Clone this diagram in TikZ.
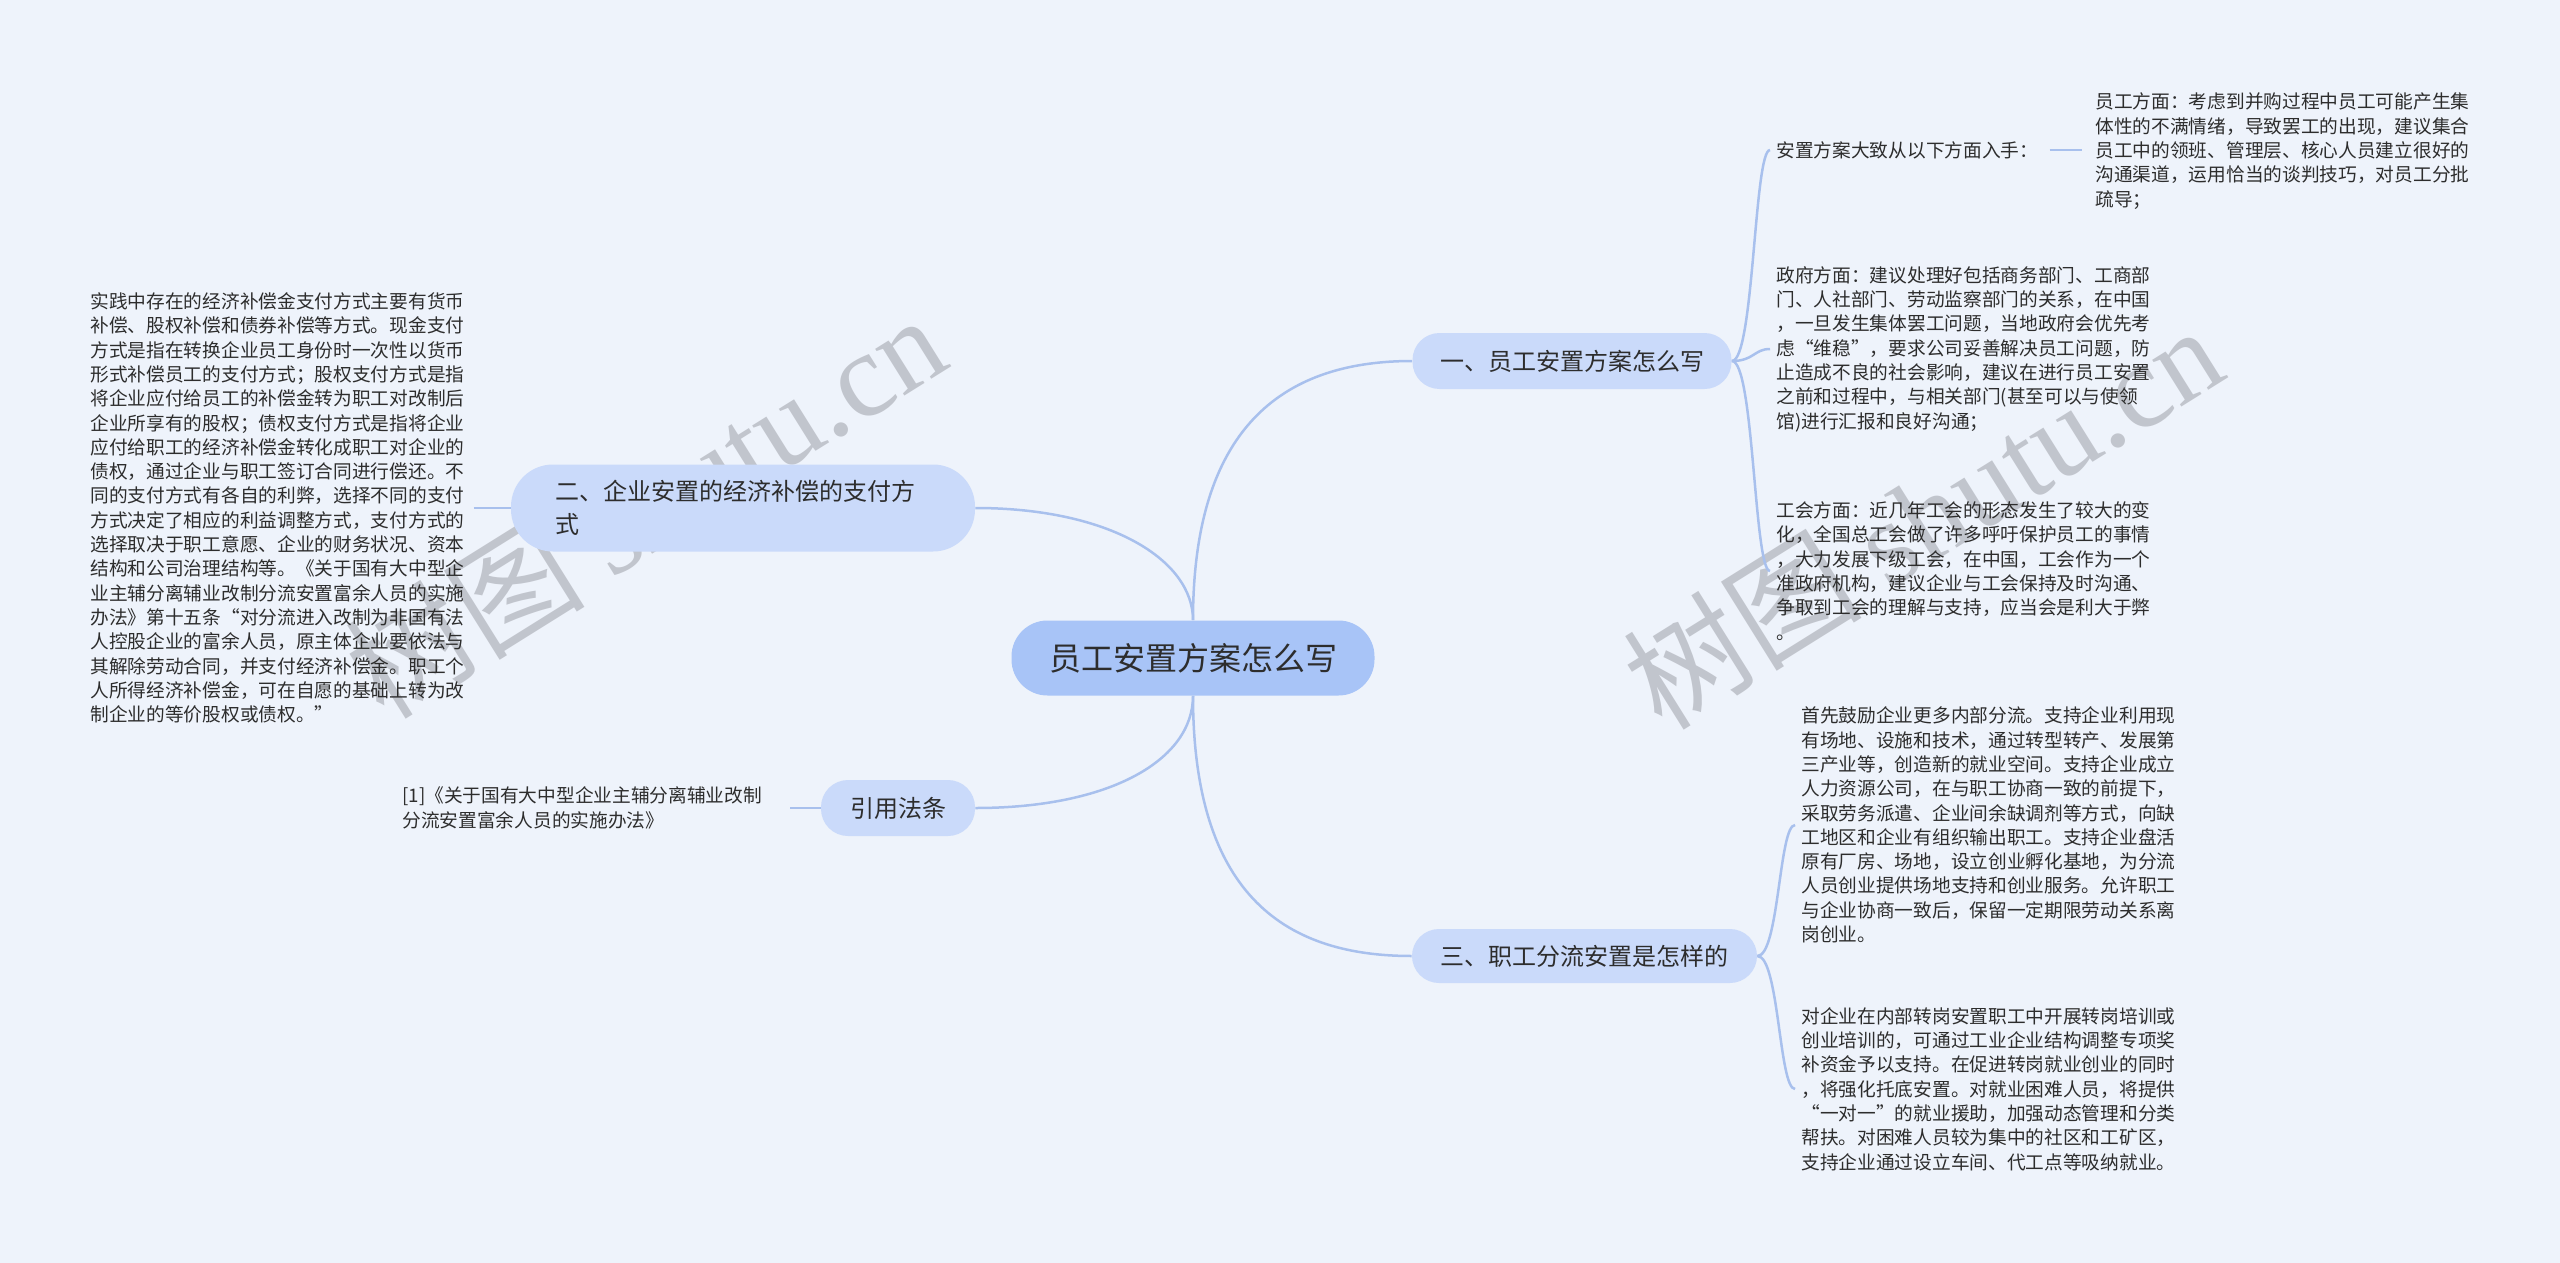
\documentclass[tikz,border=0pt]{standalone}
\usepackage{fontspec}
\setmainfont{Noto Sans CJK SC}
\newfontfamily\wmlatin{Liberation Serif}
\definecolor{bg}{RGB}{238,243,251}
\definecolor{mainfill}{RGB}{168,196,247}
\definecolor{subfill}{RGB}{202,218,250}
\definecolor{linec}{RGB}{168,192,237}
\definecolor{txt}{RGB}{45,45,45}
\definecolor{wm}{RGB}{175,178,186}
\begin{document}
\begin{tikzpicture}[x=0.5pt,y=-0.5pt,
  mainbox/.style={fill=mainfill, rounded corners=18pt, minimum width=181.5pt, minimum height=37.5pt, inner sep=0pt, text=txt, font=\fontsize{16pt}{18pt}\selectfont},
  branchbox/.style={fill=subfill, rounded corners=13.5pt, minimum height=28pt, inner sep=0pt, text=txt, font=\fontsize{12pt}{16.5pt}\selectfont},
  leaf/.style={anchor=west, align=left, inner sep=0pt, text=txt, font=\fontsize{9.35pt}{12.15pt}\selectfont},
  conn/.style={draw=linec, line width=1.25pt},
  wmark/.style={rotate=32, text=wm, text opacity=0.7, font=\fontsize{60pt}{60pt}\selectfont}
]
\useasboundingbox (0,0) rectangle (2560,1263);
\fill[bg] (0,0) rectangle (2560,1263);

% watermarks
\node[wmark] (wmL) at (645,505) {树图 {\wmlatin shutu.cn}};
\node[wmark] (wmR) at (1922,516) {树图 {\wmlatin shutu.cn}};

% central and branches
\node[mainbox] (c) at (1193,658) {员工安置方案怎么写};
\node[branchbox, minimum width=159.5pt] (b1) at (1572,361) {一、员工安置方案怎么写};
\node[branchbox, minimum width=232pt, minimum height=43.5pt, rounded corners=21pt, inner xsep=22pt, text width=188pt, align=left] (b2) at (743,508) {二、企业安置的经济补偿的支付方\\式};
\node[branchbox, minimum width=77pt] (b3) at (898,808) {引用法条};
\node[branchbox, minimum width=172.5pt, minimum height=27pt] (b4) at (1584.5,956) {三、职工分流安置是怎样的};

% leaves of branch 1
\node[leaf] (l1a) at (1776,150) {安置方案大致从以下方面入手：};
\node[leaf] (l1s) at (2095,151) {员工方面：考虑到并购过程中员工可能产生集\\体性的不满情绪，导致罢工的出现，建议集合\\员工中的领班、管理层、核心人员建立很好的\\沟通渠道，运用恰当的谈判技巧，对员工分批\\疏导；};
\node[leaf] (l1b) at (1776,349) {政府方面：建议处理好包括商务部门、工商部\\门、人社部门、劳动监察部门的关系，在中国\\，一旦发生集体罢工问题，当地政府会优先考\\虑“维稳”，要求公司妥善解决员工问题，防\\止造成不良的社会影响，建议在进行员工安置\\之前和过程中，与相关部门(甚至可以与使领\\馆)进行汇报和良好沟通；};
\node[leaf] (l1c) at (1776,571) {工会方面：近几年工会的形态发生了较大的变\\化，全国总工会做了许多呼吁保护员工的事情\\，大力发展下级工会，在中国，工会作为一个\\准政府机构，建议企业与工会保持及时沟通、\\争取到工会的理解与支持，应当会是利大于弊\\。};

% leaves of branch 4
\node[leaf] (l4a) at (1801,825) {首先鼓励企业更多内部分流。支持企业利用现\\有场地、设施和技术，通过转型转产、发展第\\三产业等，创造新的就业空间。支持企业成立\\人力资源公司，在与职工协商一致的前提下，\\采取劳务派遣、企业间余缺调剂等方式，向缺\\工地区和企业有组织输出职工。支持企业盘活\\原有厂房、场地，设立创业孵化基地，为分流\\人员创业提供场地支持和创业服务。允许职工\\与企业协商一致后，保留一定期限劳动关系离\\岗创业。};
\node[leaf] (l4b) at (1801,1089) {对企业在内部转岗安置职工中开展转岗培训或\\创业培训的，可通过工业企业结构调整专项奖\\补资金予以支持。在促进转岗就业创业的同时\\，将强化托底安置。对就业困难人员，将提供\\“一对一”的就业援助，加强动态管理和分类\\帮扶。对困难人员较为集中的社区和工矿区，\\支持企业通过设立车间、代工点等吸纳就业。};

% leaf of branch 2
\node[leaf] (l2) at (90,508) {实践中存在的经济补偿金支付方式主要有货币\\补偿、股权补偿和债券补偿等方式。现金支付\\方式是指在转换企业员工身份时一次性以货币\\形式补偿员工的支付方式；股权支付方式是指\\将企业应付给员工的补偿金转为职工对改制后\\企业所享有的股权；债权支付方式是指将企业\\应付给职工的经济补偿金转化成职工对企业的\\债权，通过企业与职工签订合同进行偿还。不\\同的支付方式有各自的利弊，选择不同的支付\\方式决定了相应的利益调整方式，支付方式的\\选择取决于职工意愿、企业的财务状况、资本\\结构和公司治理结构等。《关于国有大中型企\\业主辅分离辅业改制分流安置富余人员的实施\\办法》第十五条“对分流进入改制为非国有法\\人控股企业的富余人员，原主体企业要依法与\\其解除劳动合同，并支付经济补偿金。职工个\\人所得经济补偿金，可在自愿的基础上转为改\\制企业的等价股权或债权。”};

% leaf of branch 3
\node[leaf] (l3) at (402,808) {[1]《关于国有大中型企业主辅分离辅业改制\\分流安置富余人员的实施办法》};

% connectors from centre
\draw[conn] (c.north) .. controls (1193,420) and (1290,361) .. (b1.west);
\draw[conn] (c.north) .. controls (1193,560) and (1110,508) .. (b2.east);
\draw[conn] (c.south) .. controls (1193,760) and (1110,808) .. (b3.east);
\draw[conn] (c.south) .. controls (1193,900) and (1290,956) .. (b4.west);

% branch 1 bracket
\draw[conn] (b1.east) .. controls (1754,361) and (1754,150) .. ([xshift=-3pt]l1a.west);
\draw[conn] (b1.east) .. controls (1754,361) and (1754,349) .. ([xshift=-3pt]l1b.west);
\draw[conn] (b1.east) .. controls (1754,361) and (1754,571) .. ([xshift=-3pt]l1c.west);
\draw[conn, shorten <=5.5pt, shorten >=6.5pt] (l1a.east) -- (l1s.west |- l1a.east);

% branch 4 bracket
\draw[conn] (b4.east) .. controls (1779,956) and (1779,825) .. ([xshift=-3pt]l4a.west);
\draw[conn] (b4.east) .. controls (1779,956) and (1779,1089) .. ([xshift=-3pt]l4b.west);

% left leaves
\draw[conn, shorten <=4.5pt] (l2.east) -- (b2.west);
\draw[conn] ([xshift=14pt]l3.east) -- (b3.west);
\end{tikzpicture}
\end{document}
